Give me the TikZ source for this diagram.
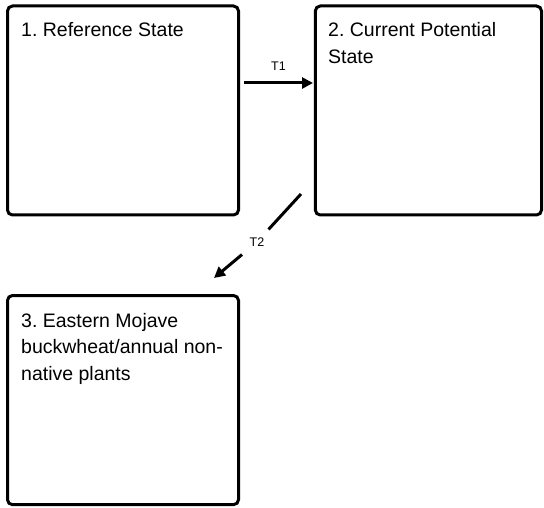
\documentclass[tikz,border=0pt]{standalone}
\usepackage{fontspec}
\setmainfont{Liberation Sans}
\usetikzlibrary{arrows.meta}
\frenchspacing
\begin{document}
\begin{tikzpicture}[x=1pt,y=-1pt,
  statebox/.style={draw=black, line width=3pt, rounded corners=5pt, fill=white},
  boxtext/.style={anchor=base west, inner sep=0pt, font=\fontsize{19.5}{26.5}\selectfont},
  tlabel/.style={font=\fontsize{12.5}{14}\selectfont, inner sep=0pt},
  trans/.style={line width=3pt, -{Triangle[length=11pt,width=11pt]}}]
\useasboundingbox (0,0) rectangle (544,508);
% boxes
\draw[statebox] (7.5,6) rectangle (238.5,215);
\draw[statebox] (315.3,6) rectangle (541.5,215);
\draw[statebox] (7.5,295.5) rectangle (238.5,504.7);
\node[boxtext] (s1) at (21,37) {1. Reference State};
\node[boxtext] (s2) at (328,37) {\vtop{\hbox{2. Current Potential}\hbox{State}}};
\node[boxtext] (s3) at (21,327) {\vtop{\hbox{3. Eastern Mojave}\hbox{buckwheat/annual non-}\hbox{native plants}}};
% T1
\coordinate (t1s) at (244,83);
\coordinate (t1e) at (313,83);
\draw[trans] (t1s) -- node[tlabel, above=11pt] (t1) {T1} (t1e);
% T2
\coordinate (t2s) at (301,194);
\coordinate (t2e) at (214,278);
\node[tlabel, inner sep=8pt] (t2) at (257,242) {T2};
\draw[line width=3pt] (t2s) -- (t2);
\draw[trans] (t2) -- (t2e);
\end{tikzpicture}
\end{document}
